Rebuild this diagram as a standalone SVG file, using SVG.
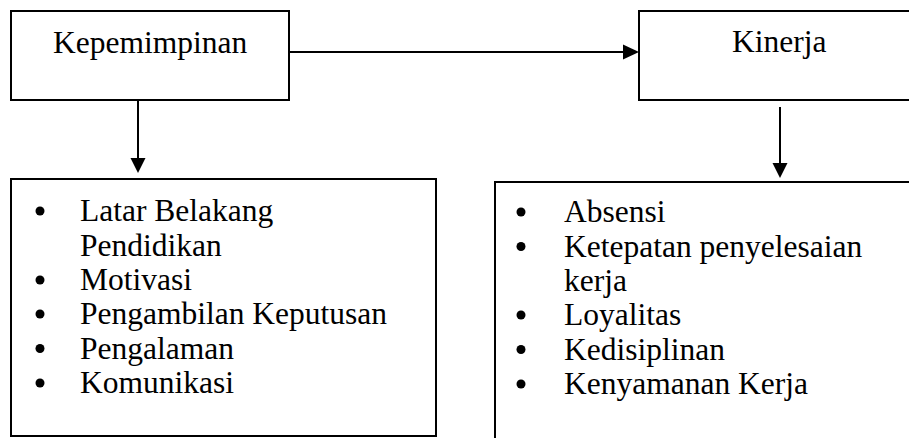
<svg xmlns="http://www.w3.org/2000/svg" width="909" height="438" viewBox="0 0 909 438">
<style>
.box{fill:#fff;stroke:#000;stroke-width:2}
.t{font-family:"Liberation Serif","Times New Roman",serif;font-size:31.5px;fill:#000}
.ln{stroke:#000;stroke-width:2;fill:none}
.ah{fill:#000}
.b{fill:#000}
</style>
<rect width="909" height="438" fill="#fff"/>
<g id="connectors">
<line class="ln" x1="290" y1="52" x2="625" y2="52"/>
<polygon class="ah" points="623,44.5 639,52 623,59.5"/>
<line class="ln" x1="138" y1="101" x2="138" y2="160"/>
<polygon class="ah" points="130.5,158 145.5,158 138,173"/>
<line class="ln" x1="780" y1="107" x2="780" y2="165"/>
<polygon class="ah" points="772.5,163 787.5,163 780,178"/>
</g>
<g id="kepemimpinan">
<rect class="box" x="11" y="11" width="278" height="89"/>
<text class="t" x="53" y="53">Kepemimpinan</text>
</g>
<g id="kinerja">
<rect class="box" x="639" y="11" width="290" height="89"/>
<text class="t" x="732" y="52">Kinerja</text>
</g>
<g id="indikator-kepemimpinan">
<rect class="box" x="11" y="179" width="425" height="257"/>
<circle class="b" cx="40" cy="211" r="4.5"/>
<text class="t" x="80" y="221">Latar Belakang</text>
<text class="t" x="80" y="255.5">Pendidikan</text>
<circle class="b" cx="40" cy="280" r="4.5"/>
<text class="t" x="80" y="290">Motivasi</text>
<circle class="b" cx="40" cy="314" r="4.5"/>
<text class="t" x="80" y="324">Pengambilan Keputusan</text>
<circle class="b" cx="40" cy="348.5" r="4.5"/>
<text class="t" x="80" y="358.5">Pengalaman</text>
<circle class="b" cx="40" cy="383" r="4.5"/>
<text class="t" x="80" y="393">Komunikasi</text>
</g>
<g id="indikator-kinerja">
<rect class="box" x="495" y="182" width="430" height="270"/>
<circle class="b" cx="521" cy="212" r="4.5"/>
<text class="t" x="564" y="222">Absensi</text>
<circle class="b" cx="521" cy="246.5" r="4.5"/>
<text class="t" x="564" y="256.5">Ketepatan penyelesaian</text>
<text class="t" x="564" y="291">kerja</text>
<circle class="b" cx="521" cy="315" r="4.5"/>
<text class="t" x="564" y="325">Loyalitas</text>
<circle class="b" cx="521" cy="349.5" r="4.5"/>
<text class="t" x="564" y="359.5">Kedisiplinan</text>
<circle class="b" cx="521" cy="384" r="4.5"/>
<text class="t" x="564" y="394">Kenyamanan Kerja</text>
</g>
</svg>
